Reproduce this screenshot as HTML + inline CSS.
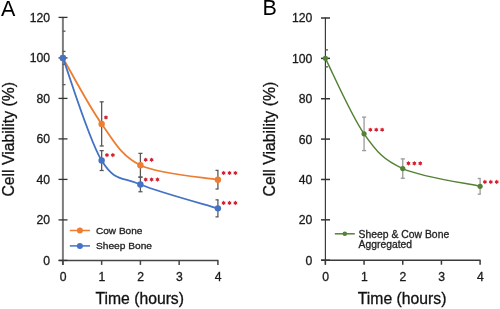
<!DOCTYPE html>
<html><head><meta charset="utf-8"><style>
html,body{margin:0;padding:0;background:#fff;width:500px;height:309px;overflow:hidden}
svg{display:block;font-family:"Liberation Sans", sans-serif;will-change:transform}
</style></head><body>
<svg width="500" height="309" viewBox="0 0 500 309">
<rect width="500" height="309" fill="#fff"/>
<line x1="62.90" y1="16.90" x2="62.90" y2="264.90" stroke="#7c7c7c" stroke-width="2.0"/>
<line x1="58.70" y1="260.40" x2="218.40" y2="260.40" stroke="#454545" stroke-width="1.5"/>
<line x1="58.50" y1="260.40" x2="67.50" y2="260.40" stroke="#333333" stroke-width="1.3"/>
<text x="50.10" y="264.80" text-anchor="end" font-size="12.2" fill="#1a1a1a" stroke="#1a1a1a" stroke-width="0.3">0</text>
<line x1="58.50" y1="219.90" x2="67.50" y2="219.90" stroke="#333333" stroke-width="1.3"/>
<text x="50.10" y="224.30" text-anchor="end" font-size="12.2" fill="#1a1a1a" stroke="#1a1a1a" stroke-width="0.3">20</text>
<line x1="58.50" y1="179.40" x2="67.50" y2="179.40" stroke="#333333" stroke-width="1.3"/>
<text x="50.10" y="183.80" text-anchor="end" font-size="12.2" fill="#1a1a1a" stroke="#1a1a1a" stroke-width="0.3">40</text>
<line x1="58.50" y1="138.90" x2="67.50" y2="138.90" stroke="#333333" stroke-width="1.3"/>
<text x="50.10" y="143.30" text-anchor="end" font-size="12.2" fill="#1a1a1a" stroke="#1a1a1a" stroke-width="0.3">60</text>
<line x1="58.50" y1="98.40" x2="67.50" y2="98.40" stroke="#333333" stroke-width="1.3"/>
<text x="50.10" y="102.80" text-anchor="end" font-size="12.2" fill="#1a1a1a" stroke="#1a1a1a" stroke-width="0.3">80</text>
<line x1="58.50" y1="57.90" x2="67.50" y2="57.90" stroke="#333333" stroke-width="1.3"/>
<text x="50.10" y="62.30" text-anchor="end" font-size="12.2" fill="#1a1a1a" stroke="#1a1a1a" stroke-width="0.3">100</text>
<line x1="58.50" y1="17.40" x2="67.50" y2="17.40" stroke="#333333" stroke-width="1.3"/>
<text x="50.10" y="21.80" text-anchor="end" font-size="12.2" fill="#1a1a1a" stroke="#1a1a1a" stroke-width="0.3">120</text>
<line x1="62.90" y1="260.40" x2="62.90" y2="264.90" stroke="#454545" stroke-width="1.5"/>
<text x="63.10" y="280.80" text-anchor="middle" font-size="12.2" fill="#1a1a1a" stroke="#1a1a1a" stroke-width="0.3">0</text>
<line x1="101.65" y1="260.40" x2="101.65" y2="264.90" stroke="#454545" stroke-width="1.5"/>
<text x="101.85" y="280.80" text-anchor="middle" font-size="12.2" fill="#1a1a1a" stroke="#1a1a1a" stroke-width="0.3">1</text>
<line x1="140.40" y1="260.40" x2="140.40" y2="264.90" stroke="#454545" stroke-width="1.5"/>
<text x="140.60" y="280.80" text-anchor="middle" font-size="12.2" fill="#1a1a1a" stroke="#1a1a1a" stroke-width="0.3">2</text>
<line x1="179.15" y1="260.40" x2="179.15" y2="264.90" stroke="#454545" stroke-width="1.5"/>
<text x="179.35" y="280.80" text-anchor="middle" font-size="12.2" fill="#1a1a1a" stroke="#1a1a1a" stroke-width="0.3">3</text>
<line x1="217.90" y1="260.40" x2="217.90" y2="264.90" stroke="#454545" stroke-width="1.5"/>
<text x="218.10" y="280.80" text-anchor="middle" font-size="12.2" fill="#1a1a1a" stroke="#1a1a1a" stroke-width="0.3">4</text>
<text x="95.40" y="304.20" font-size="15.6" textLength="88.60" lengthAdjust="spacingAndGlyphs" fill="#111" stroke="#111" stroke-width="0.3">Time (hours)</text>
<text transform="translate(14.30,196.60) rotate(-90)" x="0" y="0" font-size="16.3" textLength="114.60" lengthAdjust="spacingAndGlyphs" fill="#111" stroke="#111" stroke-width="0.3">Cell Viability (%)</text>
<text x="0.90" y="15.50" font-size="21.5" fill="#000">A</text>
<line x1="62.60" y1="31.17" x2="65.50" y2="31.17" stroke="#5a5a5a" stroke-width="1.3"/>
<line x1="62.60" y1="84.63" x2="65.50" y2="84.63" stroke="#5a5a5a" stroke-width="1.3"/>
<line x1="101.65" y1="101.84" x2="101.65" y2="145.99" stroke="#5a5a5a" stroke-width="1.3"/>
<line x1="99.65" y1="101.84" x2="103.75" y2="101.84" stroke="#5a5a5a" stroke-width="1.3"/>
<line x1="99.65" y1="145.99" x2="103.75" y2="145.99" stroke="#5a5a5a" stroke-width="1.3"/>
<line x1="140.40" y1="153.38" x2="140.40" y2="177.07" stroke="#5a5a5a" stroke-width="1.3"/>
<line x1="138.40" y1="153.38" x2="142.50" y2="153.38" stroke="#5a5a5a" stroke-width="1.3"/>
<line x1="138.40" y1="177.07" x2="142.50" y2="177.07" stroke="#5a5a5a" stroke-width="1.3"/>
<line x1="217.90" y1="170.39" x2="217.90" y2="189.02" stroke="#5a5a5a" stroke-width="1.3"/>
<line x1="215.50" y1="170.39" x2="218.50" y2="170.39" stroke="#5a5a5a" stroke-width="1.3"/>
<line x1="215.50" y1="189.02" x2="218.50" y2="189.02" stroke="#5a5a5a" stroke-width="1.3"/>
<path d="M62.90,57.90 C69.36,68.90 88.73,106.03 101.65,123.91 C114.57,141.80 121.03,155.93 140.40,165.22 C159.78,174.52 204.98,177.29 217.90,179.70" fill="none" stroke="#ED7D31" stroke-width="1.8"/>
<circle cx="62.90" cy="57.90" r="3.2" fill="#ED7D31"/>
<circle cx="101.65" cy="123.91" r="3.2" fill="#ED7D31"/>
<circle cx="140.40" cy="165.22" r="3.2" fill="#ED7D31"/>
<circle cx="217.90" cy="179.70" r="3.2" fill="#ED7D31"/>
<polygon points="105.95,115.06 105.22,116.15 103.91,116.24 104.49,117.41 103.91,118.59 105.22,118.68 105.95,119.76 106.68,118.68 107.99,118.59 107.41,117.41 107.99,116.24 106.68,116.15" fill="#D42030"/>
<polygon points="145.70,157.47 144.97,158.56 143.66,158.65 144.24,159.82 143.66,161.00 144.97,161.09 145.70,162.17 146.43,161.09 147.74,161.00 147.16,159.82 147.74,158.65 146.43,158.56" fill="#D42030"/><polygon points="151.60,157.47 150.87,158.56 149.56,158.65 150.14,159.82 149.56,161.00 150.87,161.09 151.60,162.17 152.33,161.09 153.64,161.00 153.06,159.82 153.64,158.65 152.33,158.56" fill="#D42030"/>
<polygon points="223.60,170.65 222.87,171.74 221.56,171.83 222.14,173.00 221.56,174.18 222.87,174.27 223.60,175.35 224.33,174.27 225.64,174.18 225.06,173.00 225.64,171.83 224.33,171.74" fill="#D42030"/><polygon points="229.50,170.65 228.77,171.74 227.46,171.83 228.04,173.00 227.46,174.18 228.77,174.27 229.50,175.35 230.23,174.27 231.54,174.18 230.96,173.00 231.54,171.83 230.23,171.74" fill="#D42030"/><polygon points="235.40,170.65 234.67,171.74 233.36,171.83 233.94,173.00 233.36,174.18 234.67,174.27 235.40,175.35 236.13,174.27 237.44,174.18 236.86,173.00 237.44,171.83 236.13,171.74" fill="#D42030"/>
<line x1="62.60" y1="51.42" x2="65.50" y2="51.42" stroke="#5a5a5a" stroke-width="1.3"/>
<line x1="62.60" y1="64.38" x2="65.50" y2="64.38" stroke="#5a5a5a" stroke-width="1.3"/>
<line x1="101.65" y1="150.65" x2="101.65" y2="170.49" stroke="#5a5a5a" stroke-width="1.3"/>
<line x1="99.65" y1="150.65" x2="103.75" y2="150.65" stroke="#5a5a5a" stroke-width="1.3"/>
<line x1="99.65" y1="170.49" x2="103.75" y2="170.49" stroke="#5a5a5a" stroke-width="1.3"/>
<line x1="140.40" y1="177.17" x2="140.40" y2="191.75" stroke="#5a5a5a" stroke-width="1.3"/>
<line x1="138.40" y1="177.17" x2="142.50" y2="177.17" stroke="#5a5a5a" stroke-width="1.3"/>
<line x1="138.40" y1="191.75" x2="142.50" y2="191.75" stroke="#5a5a5a" stroke-width="1.3"/>
<line x1="217.90" y1="199.85" x2="217.90" y2="216.86" stroke="#5a5a5a" stroke-width="1.3"/>
<line x1="215.50" y1="199.85" x2="218.50" y2="199.85" stroke="#5a5a5a" stroke-width="1.3"/>
<line x1="215.50" y1="216.86" x2="218.50" y2="216.86" stroke="#5a5a5a" stroke-width="1.3"/>
<path d="M62.90,57.90 C69.36,75.01 88.73,139.47 101.65,160.57 C114.57,181.66 121.03,176.50 140.40,184.46 C159.78,192.43 204.98,204.38 217.90,208.36" fill="none" stroke="#4472C4" stroke-width="1.8"/>
<circle cx="62.90" cy="57.90" r="3.2" fill="#4472C4"/>
<circle cx="101.65" cy="160.57" r="3.2" fill="#4472C4"/>
<circle cx="140.40" cy="184.46" r="3.2" fill="#4472C4"/>
<circle cx="217.90" cy="208.36" r="3.2" fill="#4472C4"/>
<polygon points="106.95,152.72 106.22,153.81 104.91,153.89 105.49,155.07 104.91,156.24 106.22,156.33 106.95,157.42 107.68,156.33 108.99,156.24 108.41,155.07 108.99,153.89 107.68,153.81" fill="#D42030"/><polygon points="112.85,152.72 112.12,153.81 110.81,153.89 111.39,155.07 110.81,156.24 112.12,156.33 112.85,157.42 113.58,156.33 114.89,156.24 114.31,155.07 114.89,153.89 113.58,153.81" fill="#D42030"/>
<polygon points="145.70,177.21 144.97,178.30 143.66,178.39 144.24,179.56 143.66,180.74 144.97,180.82 145.70,181.91 146.43,180.82 147.74,180.74 147.16,179.56 147.74,178.39 146.43,178.30" fill="#D42030"/><polygon points="151.60,177.21 150.87,178.30 149.56,178.39 150.14,179.56 149.56,180.74 150.87,180.82 151.60,181.91 152.33,180.82 153.64,180.74 153.06,179.56 153.64,178.39 152.33,178.30" fill="#D42030"/><polygon points="157.50,177.21 156.77,178.30 155.46,178.39 156.04,179.56 155.46,180.74 156.77,180.82 157.50,181.91 158.23,180.82 159.54,180.74 158.96,179.56 159.54,178.39 158.23,178.30" fill="#D42030"/>
<polygon points="223.60,200.61 222.87,201.70 221.56,201.78 222.14,202.96 221.56,204.13 222.87,204.22 223.60,205.31 224.33,204.22 225.64,204.13 225.06,202.96 225.64,201.78 224.33,201.70" fill="#D42030"/><polygon points="229.50,200.61 228.77,201.70 227.46,201.78 228.04,202.96 227.46,204.13 228.77,204.22 229.50,205.31 230.23,204.22 231.54,204.13 230.96,202.96 231.54,201.78 230.23,201.70" fill="#D42030"/><polygon points="235.40,200.61 234.67,201.70 233.36,201.78 233.94,202.96 233.36,204.13 234.67,204.22 235.40,205.31 236.13,204.22 237.44,204.13 236.86,202.96 237.44,201.78 236.13,201.70" fill="#D42030"/>
<line x1="69.80" y1="230.50" x2="90.00" y2="230.50" stroke="#ED7D31" stroke-width="1.5"/>
<circle cx="79.90" cy="230.50" r="3.0" fill="#ED7D31"/>
<text x="96.00" y="234.10" font-size="9.9" textLength="46.40" lengthAdjust="spacingAndGlyphs" fill="#222" stroke="#222" stroke-width="0.3">Cow Bone</text>
<line x1="69.80" y1="245.90" x2="90.00" y2="245.90" stroke="#4472C4" stroke-width="1.5"/>
<circle cx="79.90" cy="245.90" r="3.0" fill="#4472C4"/>
<text x="96.00" y="249.00" font-size="9.9" textLength="56.00" lengthAdjust="spacingAndGlyphs" fill="#222" stroke="#222" stroke-width="0.3">Sheep Bone</text>
<line x1="325.40" y1="17.50" x2="325.40" y2="264.70" stroke="#3a3a3a" stroke-width="1.2"/>
<line x1="321.20" y1="260.20" x2="480.60" y2="260.20" stroke="#3a3a3a" stroke-width="1.5"/>
<line x1="321.00" y1="260.20" x2="330.00" y2="260.20" stroke="#333333" stroke-width="1.5"/>
<text x="312.40" y="264.60" text-anchor="end" font-size="12.2" fill="#1a1a1a" stroke="#1a1a1a" stroke-width="0.3">0</text>
<line x1="321.00" y1="219.83" x2="330.00" y2="219.83" stroke="#333333" stroke-width="1.5"/>
<text x="312.40" y="224.23" text-anchor="end" font-size="12.2" fill="#1a1a1a" stroke="#1a1a1a" stroke-width="0.3">20</text>
<line x1="321.00" y1="179.47" x2="330.00" y2="179.47" stroke="#333333" stroke-width="1.5"/>
<text x="312.40" y="183.87" text-anchor="end" font-size="12.2" fill="#1a1a1a" stroke="#1a1a1a" stroke-width="0.3">40</text>
<line x1="321.00" y1="139.10" x2="330.00" y2="139.10" stroke="#333333" stroke-width="1.5"/>
<text x="312.40" y="143.50" text-anchor="end" font-size="12.2" fill="#1a1a1a" stroke="#1a1a1a" stroke-width="0.3">60</text>
<line x1="321.00" y1="98.73" x2="330.00" y2="98.73" stroke="#333333" stroke-width="1.5"/>
<text x="312.40" y="103.13" text-anchor="end" font-size="12.2" fill="#1a1a1a" stroke="#1a1a1a" stroke-width="0.3">80</text>
<line x1="321.00" y1="58.37" x2="330.00" y2="58.37" stroke="#333333" stroke-width="1.5"/>
<text x="312.40" y="62.77" text-anchor="end" font-size="12.2" fill="#1a1a1a" stroke="#1a1a1a" stroke-width="0.3">100</text>
<line x1="321.00" y1="18.00" x2="330.00" y2="18.00" stroke="#333333" stroke-width="1.5"/>
<text x="312.40" y="22.40" text-anchor="end" font-size="12.2" fill="#1a1a1a" stroke="#1a1a1a" stroke-width="0.3">120</text>
<line x1="325.40" y1="260.20" x2="325.40" y2="264.70" stroke="#3a3a3a" stroke-width="1.5"/>
<text x="325.60" y="280.60" text-anchor="middle" font-size="12.2" fill="#1a1a1a" stroke="#1a1a1a" stroke-width="0.3">0</text>
<line x1="364.07" y1="260.20" x2="364.07" y2="264.70" stroke="#3a3a3a" stroke-width="1.5"/>
<text x="364.27" y="280.60" text-anchor="middle" font-size="12.2" fill="#1a1a1a" stroke="#1a1a1a" stroke-width="0.3">1</text>
<line x1="402.75" y1="260.20" x2="402.75" y2="264.70" stroke="#3a3a3a" stroke-width="1.5"/>
<text x="402.95" y="280.60" text-anchor="middle" font-size="12.2" fill="#1a1a1a" stroke="#1a1a1a" stroke-width="0.3">2</text>
<line x1="441.43" y1="260.20" x2="441.43" y2="264.70" stroke="#3a3a3a" stroke-width="1.5"/>
<text x="441.62" y="280.60" text-anchor="middle" font-size="12.2" fill="#1a1a1a" stroke="#1a1a1a" stroke-width="0.3">3</text>
<line x1="480.10" y1="260.20" x2="480.10" y2="264.70" stroke="#3a3a3a" stroke-width="1.5"/>
<text x="480.30" y="280.60" text-anchor="middle" font-size="12.2" fill="#1a1a1a" stroke="#1a1a1a" stroke-width="0.3">4</text>
<text x="357.80" y="304.40" font-size="15.6" textLength="88.60" lengthAdjust="spacingAndGlyphs" fill="#111" stroke="#111" stroke-width="0.3">Time (hours)</text>
<text transform="translate(275.40,196.40) rotate(-90)" x="0" y="0" font-size="16.3" textLength="114.60" lengthAdjust="spacingAndGlyphs" fill="#111" stroke="#111" stroke-width="0.3">Cell Viability (%)</text>
<text x="262.60" y="15.30" font-size="21.5" fill="#000">B</text>
<line x1="325.10" y1="49.89" x2="328.00" y2="49.89" stroke="#505050" stroke-width="1.3"/>
<line x1="325.10" y1="66.84" x2="328.00" y2="66.84" stroke="#505050" stroke-width="1.3"/>
<line x1="364.07" y1="117.10" x2="364.07" y2="150.60" stroke="#9a9a9a" stroke-width="1.3"/>
<line x1="362.07" y1="117.10" x2="366.18" y2="117.10" stroke="#9a9a9a" stroke-width="1.3"/>
<line x1="362.07" y1="150.60" x2="366.18" y2="150.60" stroke="#9a9a9a" stroke-width="1.3"/>
<line x1="402.75" y1="158.88" x2="402.75" y2="178.26" stroke="#9a9a9a" stroke-width="1.3"/>
<line x1="400.75" y1="158.88" x2="404.85" y2="158.88" stroke="#9a9a9a" stroke-width="1.3"/>
<line x1="400.75" y1="178.26" x2="404.85" y2="178.26" stroke="#9a9a9a" stroke-width="1.3"/>
<line x1="480.10" y1="178.46" x2="480.10" y2="194.20" stroke="#9a9a9a" stroke-width="1.3"/>
<line x1="477.70" y1="178.46" x2="480.70" y2="178.46" stroke="#9a9a9a" stroke-width="1.3"/>
<line x1="477.70" y1="194.20" x2="480.70" y2="194.20" stroke="#9a9a9a" stroke-width="1.3"/>
<path d="M325.40,58.37 C331.85,70.95 351.18,115.49 364.07,133.85 C376.97,152.22 383.41,159.82 402.75,168.57 C422.09,177.31 467.21,183.37 480.10,186.33" fill="none" stroke="#548235" stroke-width="1.5"/>
<circle cx="325.40" cy="58.37" r="2.6" fill="#548235"/>
<circle cx="364.07" cy="133.85" r="2.6" fill="#548235"/>
<circle cx="402.75" cy="168.57" r="2.6" fill="#548235"/>
<circle cx="480.10" cy="186.33" r="2.6" fill="#548235"/>
<polygon points="370.38,127.40 369.65,128.49 368.34,128.58 368.92,129.75 368.34,130.93 369.65,131.01 370.38,132.10 371.10,131.01 372.41,130.93 371.83,129.75 372.41,128.58 371.10,128.49" fill="#D42030"/><polygon points="376.27,127.40 375.55,128.49 374.24,128.58 374.82,129.75 374.24,130.93 375.55,131.01 376.27,132.10 377.00,131.01 378.31,130.93 377.73,129.75 378.31,128.58 377.00,128.49" fill="#D42030"/><polygon points="382.18,127.40 381.45,128.49 380.14,128.58 380.72,129.75 380.14,130.93 381.45,131.01 382.18,132.10 382.90,131.01 384.21,130.93 383.63,129.75 384.21,128.58 382.90,128.49" fill="#D42030"/>
<polygon points="408.45,161.02 407.72,162.11 406.41,162.19 406.99,163.37 406.41,164.54 407.72,164.63 408.45,165.72 409.18,164.63 410.49,164.54 409.91,163.37 410.49,162.19 409.18,162.11" fill="#D42030"/><polygon points="414.35,161.02 413.62,162.11 412.31,162.19 412.89,163.37 412.31,164.54 413.62,164.63 414.35,165.72 415.08,164.63 416.39,164.54 415.81,163.37 416.39,162.19 415.08,162.11" fill="#D42030"/><polygon points="420.25,161.02 419.52,162.11 418.21,162.19 418.79,163.37 418.21,164.54 419.52,164.63 420.25,165.72 420.98,164.63 422.29,164.54 421.71,163.37 422.29,162.19 420.98,162.11" fill="#D42030"/>
<polygon points="484.90,179.58 484.17,180.67 482.86,180.75 483.44,181.93 482.86,183.10 484.17,183.19 484.90,184.28 485.63,183.19 486.94,183.10 486.36,181.93 486.94,180.75 485.63,180.67" fill="#D42030"/><polygon points="490.80,179.58 490.07,180.67 488.76,180.75 489.34,181.93 488.76,183.10 490.07,183.19 490.80,184.28 491.53,183.19 492.84,183.10 492.26,181.93 492.84,180.75 491.53,180.67" fill="#D42030"/><polygon points="496.70,179.58 495.97,180.67 494.66,180.75 495.24,181.93 494.66,183.10 495.97,183.19 496.70,184.28 497.43,183.19 498.74,183.10 498.16,181.93 498.74,180.75 497.43,180.67" fill="#D42030"/>
<line x1="334.80" y1="233.80" x2="354.80" y2="233.80" stroke="#548235" stroke-width="1.5"/>
<circle cx="344.80" cy="233.80" r="2.3" fill="#548235"/>
<text x="358.60" y="237.60" font-size="10.5" textLength="90.60" lengthAdjust="spacingAndGlyphs" fill="#222" stroke="#222" stroke-width="0.3">Sheep &amp; Cow Bone</text>
<text x="358.60" y="248.30" font-size="10.5" textLength="53.40" lengthAdjust="spacingAndGlyphs" fill="#222" stroke="#222" stroke-width="0.3">Aggregated</text>
</svg>
</body></html>
